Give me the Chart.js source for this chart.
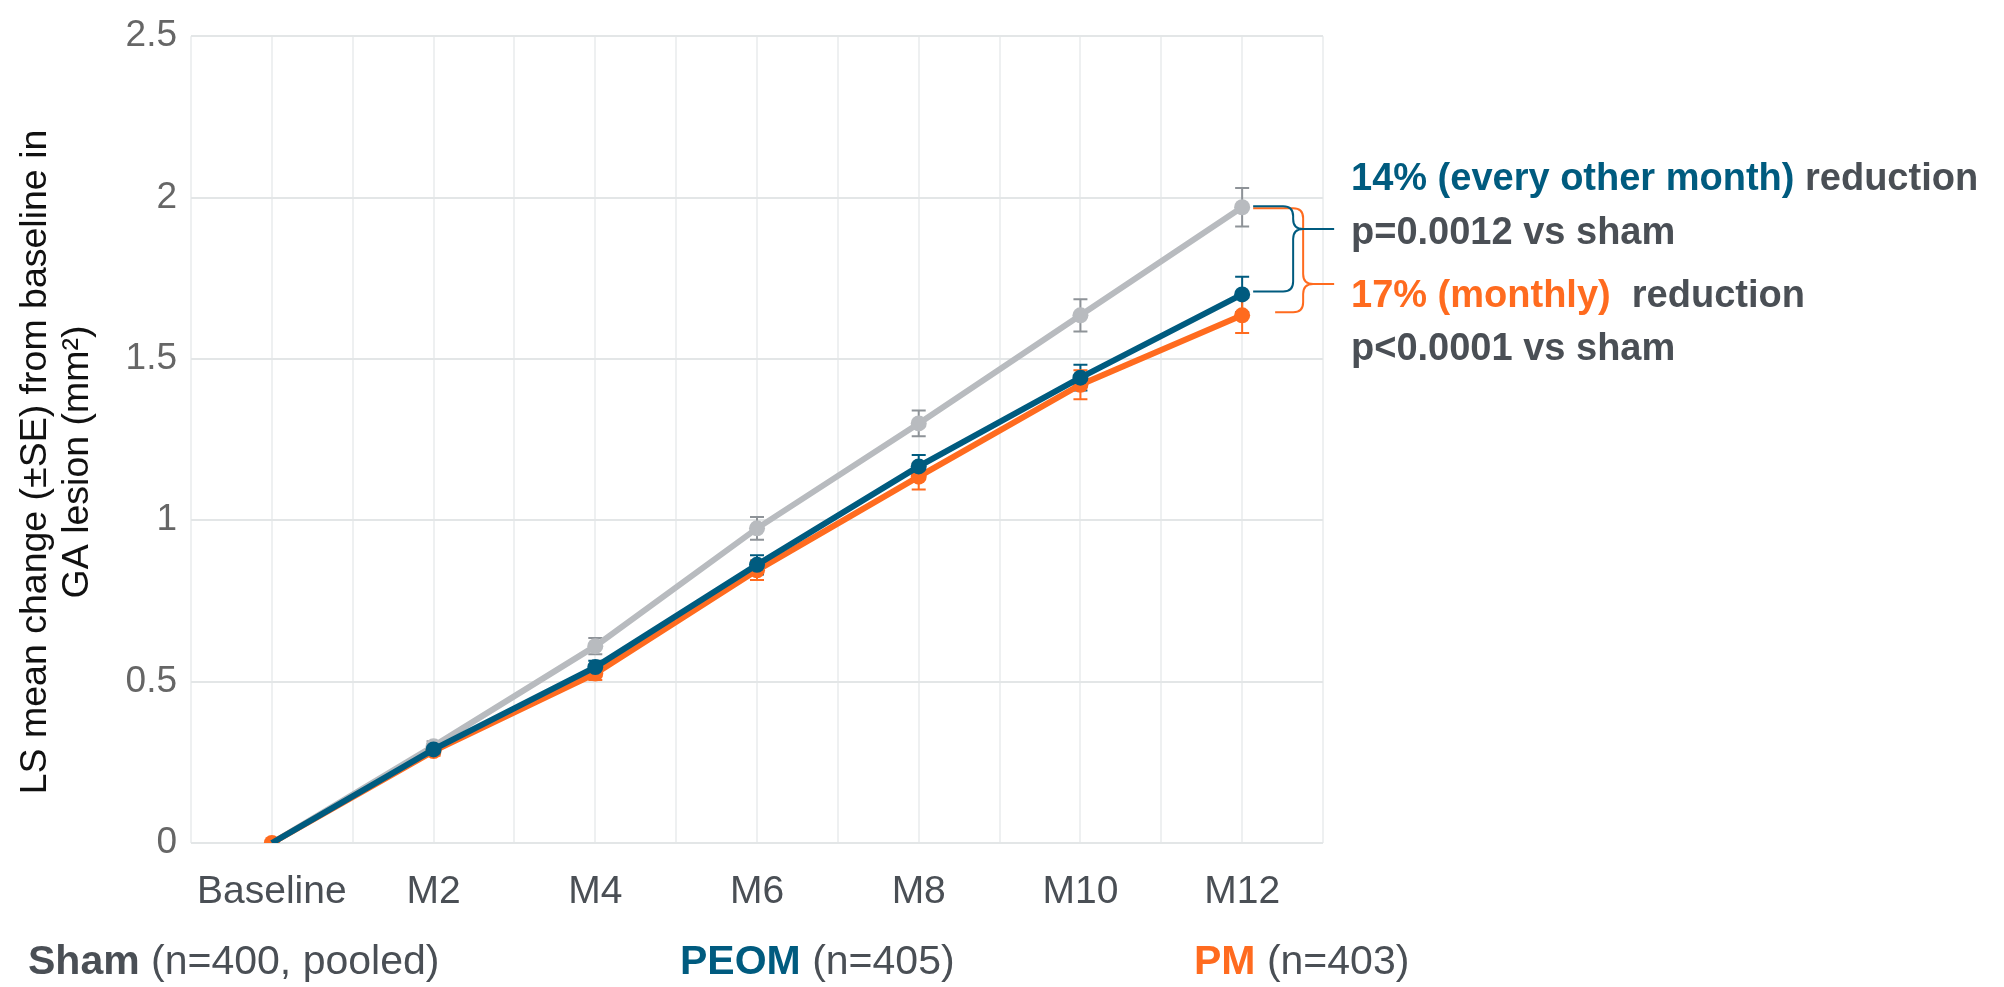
<!DOCTYPE html>
<html>
<head>
<meta charset="utf-8">
<script src="https://cdn.jsdelivr.net/npm/chart.js@4"></script>
<style>
  body { margin: 0; background: #fff; }
  canvas { display: block; }
</style>
</head>
<body>
<canvas id="mychart" width="2004" height="987"></canvas>
<script>
// categories and values
const categories = ['Baseline', 'M2', 'M4', 'M6', 'M8', 'M10', 'M12'];
const yTicks = [0, 0.5, 1, 1.5, 2, 2.5];

const shamMean = [0, 0.30, 0.61, 0.975, 1.30, 1.635, 1.97];
const shamSE   = [0, 0.015, 0.025, 0.035, 0.04, 0.05, 0.06];
const peomMean = [0, 0.29, 0.545, 0.862, 1.167, 1.442, 1.70];
const peomSE   = [0, 0.015, 0.02, 0.03, 0.035, 0.04, 0.055];
const pmMean   = [0, 0.285, 0.525, 0.845, 1.135, 1.42, 1.635];
const pmSE     = [0, 0.015, 0.02, 0.03, 0.04, 0.045, 0.055];

const FONT = '"Liberation Sans", Arial, Helvetica, sans-serif';
const GREY_TXT = '#4a4f55';
const C_SHAM = '#b8bbbf';
const C_PEOM = '#005b7f';
const C_PM = '#ff6b1f';

function toPoints(arr) {
    return arr.map(function (v, i) { return { x: i, y: v }; });
}

// error bars (±SE) drawn from the scales
const errorBars = {
    id: 'errorBars',
    beforeDatasetsDraw: function (chart) {
        const ctx = chart.ctx;
        const xs = chart.scales.x, ys = chart.scales.y;
        chart.data.datasets.forEach(function (ds) {
            ctx.save();
            ctx.strokeStyle = ds.errColor;
            ctx.lineWidth = 2;
            ds.se.forEach(function (se, i) {
                if (!se) return;
                const px = xs.getPixelForValue(i);
                const top = ys.getPixelForValue(ds.data[i].y + se);
                const bot = ys.getPixelForValue(ds.data[i].y - se);
                ctx.beginPath();
                ctx.moveTo(px, top); ctx.lineTo(px, bot);
                ctx.moveTo(px - 7, top); ctx.lineTo(px + 7, top);
                ctx.moveTo(px - 7, bot); ctx.lineTo(px + 7, bot);
                ctx.stroke();
            });
            ctx.restore();
        });
    }
};

// draw a right-pointing curly brace
function brace(ctx, x0, yTop, xv, yTip, xTip, yBot, x1, color) {
    const r = 10;
    ctx.save();
    ctx.strokeStyle = color;
    ctx.lineWidth = 2;
    ctx.beginPath();
    ctx.moveTo(x0, yTop);
    ctx.lineTo(xv - r, yTop);
    ctx.quadraticCurveTo(xv, yTop, xv, yTop + r);
    ctx.lineTo(xv, yTip - r);
    ctx.quadraticCurveTo(xv, yTip, xv + r, yTip);
    ctx.lineTo(xTip, yTip);
    ctx.moveTo(xv + r, yTip);
    ctx.quadraticCurveTo(xv, yTip, xv, yTip + r);
    ctx.lineTo(xv, yBot - r);
    ctx.quadraticCurveTo(xv, yBot, xv - r, yBot);
    ctx.lineTo(x1, yBot);
    ctx.stroke();
    ctx.restore();
}

// draw a line of text made of coloured runs
function runs(ctx, x, y, parts) {
    parts.forEach(function (p) {
        ctx.font = p[2] + ' ' + p[3] + 'px ' + FONT;
        ctx.fillStyle = p[1];
        ctx.fillText(p[0], x, y);
        x += ctx.measureText(p[0]).width;
    });
}

const annotations = {
    id: 'annotations',
    afterDraw: function (chart) {
        const ctx = chart.ctx;
        const xs = chart.scales.x, ys = chart.scales.y;
        const last = categories.length - 1;
        const xm = xs.getPixelForValue(last);
        const ySham = ys.getPixelForValue(shamMean[last]);
        const yPeom = ys.getPixelForValue(peomMean[last]);
        const yPm = ys.getPixelForValue(pmMean[last]);

        // braces
        brace(ctx, xm + 11, ySham + 1, xm + 61, ySham + (yPm - ySham) * 0.71, xm + 92, yPm - 3, xm + 33, C_PM);
        brace(ctx, xm + 11, ySham - 1, xm + 51, ySham + (yPeom - ySham) * 0.25, xm + 92, yPeom - 3, xm + 11, C_PEOM);

        // right-side text
        ctx.save();
        ctx.textBaseline = 'middle';
        ctx.textAlign = 'left';
        runs(ctx, 1351, 180, [['14% (every other month)', C_PEOM, 'bold', 38], [' reduction', GREY_TXT, 'bold', 38]]);
        runs(ctx, 1351, 234, [['p=0.0012 vs sham', GREY_TXT, 'bold', 38]]);
        runs(ctx, 1351, 297, [['17% (monthly)', C_PM, 'bold', 38], ['  reduction', GREY_TXT, 'bold', 38]]);
        runs(ctx, 1351, 350, [['p<0.0001 vs sham', GREY_TXT, 'bold', 38]]);

        // legend along the bottom
        runs(ctx, 28, 963, [['Sham', GREY_TXT, 'bold', 41], [' (n=400, pooled)', GREY_TXT, 'normal', 41]]);
        runs(ctx, 680, 963, [['PEOM', C_PEOM, 'bold', 41], [' (n=405)', GREY_TXT, 'normal', 41]]);
        runs(ctx, 1194, 963, [['PM', C_PM, 'bold', 41], [' (n=403)', GREY_TXT, 'normal', 41]]);

        // y axis title, two lines rotated
        ctx.translate(56, 462);
        ctx.rotate(-Math.PI / 2);
        ctx.textAlign = 'center';
        ctx.fillStyle = '#111';
        ctx.font = '37.5px ' + FONT;
        ctx.fillText('LS mean change (\u00b1SE) from baseline in', 0, -20);
        ctx.fillText('GA lesion (mm\u00b2)', 0, 22);
        ctx.restore();
    }
};

const zeroBase = function (ds) {
    return ds.map(function (v, i) { return i === 0 ? 0 : 8; });
};

var ctx = document.getElementById('mychart').getContext('2d');
var chart = new Chart(ctx, {
    type: 'line',
    data: {
        datasets: [
            {
                label: 'PEOM', data: toPoints(peomMean), se: peomSE, errColor: C_PEOM,
                borderColor: C_PEOM, backgroundColor: C_PEOM, borderWidth: 6,
                pointRadius: zeroBase(peomMean), pointBorderWidth: 0, order: 0
            },
            {
                label: 'PM', data: toPoints(pmMean), se: pmSE, errColor: C_PM,
                borderColor: C_PM, backgroundColor: C_PM, borderWidth: 6,
                pointRadius: 8, pointBorderWidth: 0, order: 1
            },
            {
                label: 'Sham', data: toPoints(shamMean), se: shamSE, errColor: '#8e9398',
                borderColor: C_SHAM, backgroundColor: C_SHAM, borderWidth: 6,
                pointRadius: zeroBase(shamMean), pointBorderWidth: 0, order: 2
            }
        ]
    },
    options: {
        responsive: false,
        animation: false,
        layout: { padding: { top: 28, right: 681, left: 0, bottom: 0 } },
        plugins: {
            legend: { display: false },
            tooltip: { enabled: false }
        },
        scales: {
            x: {
                type: 'linear',
                min: -0.5,
                max: categories.length - 0.5,
                border: { display: false },
                grid: { color: '#eef0f1', lineWidth: 2, drawTicks: false },
                afterBuildTicks: function (scale) {
                    let t = [];
                    for (let v = -0.5; v <= categories.length - 0.5; v += 0.5) t.push({ value: v });
                    scale.ticks = t;
                },
                afterFit: function (scale) { scale.height = 144; },
                ticks: {
                    autoSkip: false,
                    maxRotation: 0,
                    padding: 26,
                    color: GREY_TXT,
                    font: { family: FONT, size: 39 },
                    callback: function (v) {
                        return Number.isInteger(v) ? categories[v] : '';
                    }
                }
            },
            y: {
                min: 0,
                max: 2.5,
                border: { display: false },
                grid: { color: '#e3e6e7', lineWidth: 2, drawTicks: false },
                afterBuildTicks: function (scale) {
                    scale.ticks = yTicks.map(function (v) { return { value: v }; });
                },
                afterFit: function (scale) { scale.width = 191; },
                ticks: {
                    padding: 14,
                    color: '#666',
                    font: { family: FONT, size: 37 },
                    callback: function (v) { return String(v); }
                }
            }
        }
    },
    plugins: [errorBars, annotations]
});
</script>
</body>
</html>
